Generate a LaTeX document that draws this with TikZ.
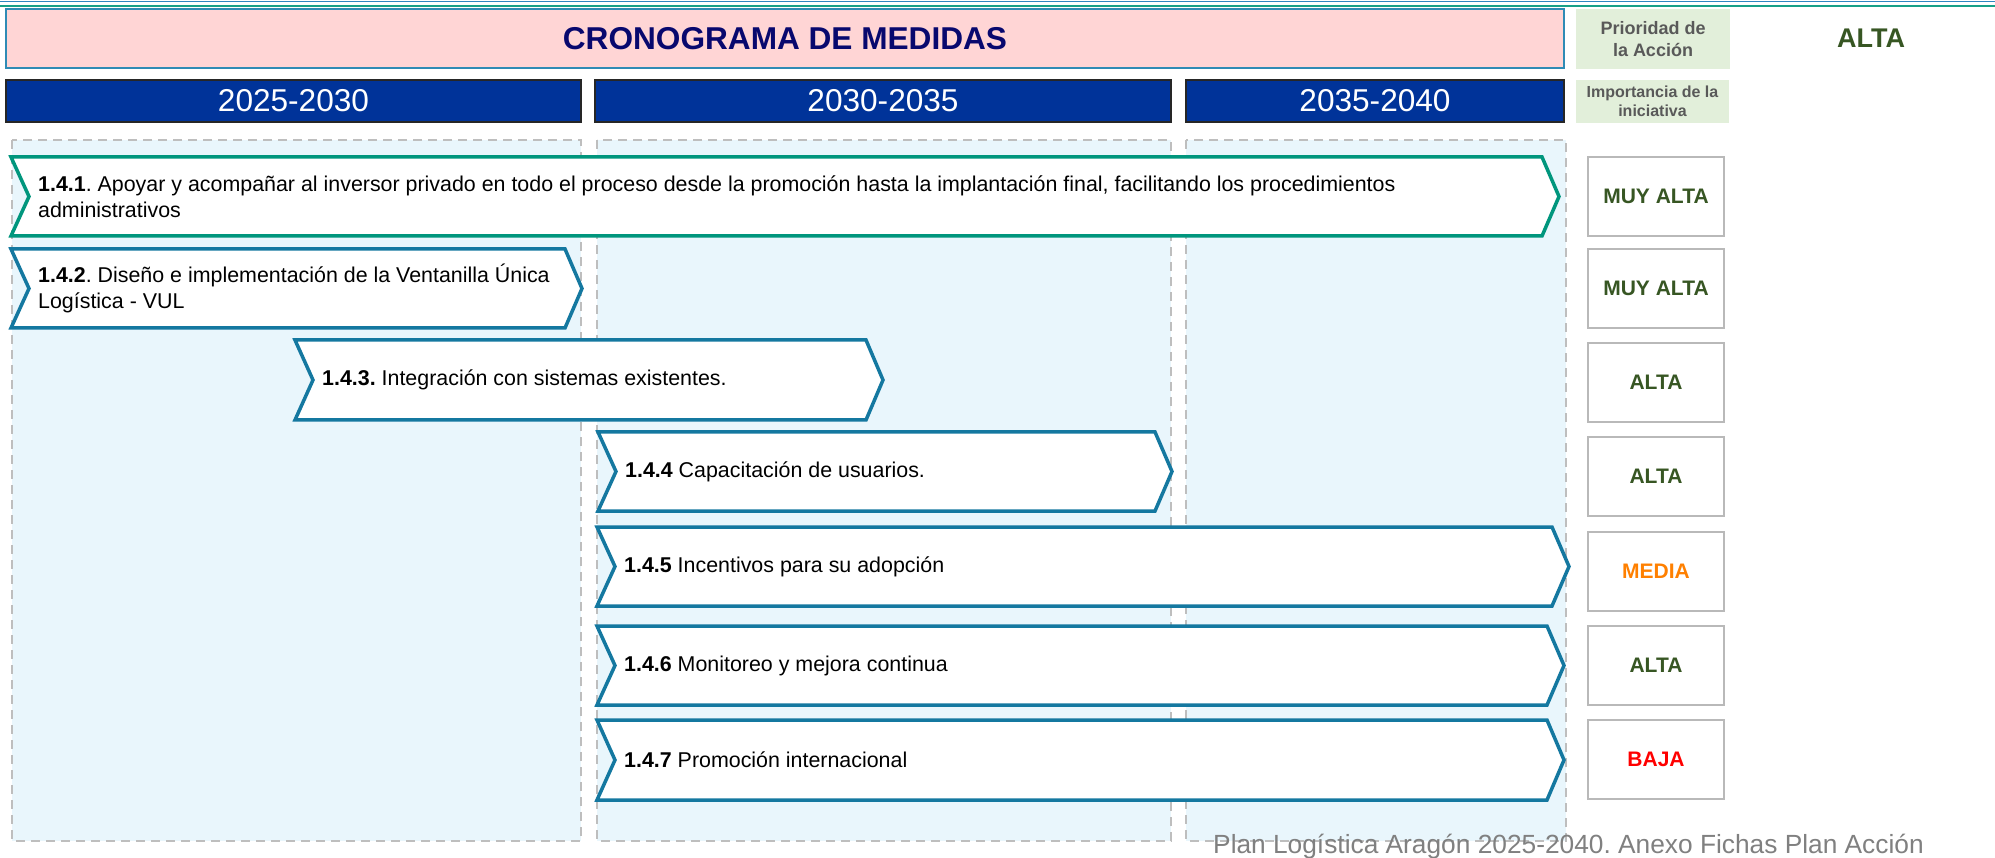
\documentclass[tikz,border=0pt]{standalone}
\usepackage{fontspec}
\setmainfont{Liberation Sans}
\frenchspacing
\definecolor{topblue}{RGB}{46,134,193}
\definecolor{topteal}{RGB}{23,160,135}
\definecolor{titlefill}{RGB}{255,213,213}
\definecolor{titledraw}{RGB}{47,139,181}
\definecolor{titletext}{RGB}{8,8,110}
\definecolor{yearblue}{RGB}{0,51,153}
\definecolor{hdrgreen}{RGB}{226,239,218}
\definecolor{hdrgray}{RGB}{89,89,89}
\definecolor{dkgreen}{RGB}{55,86,35}
\definecolor{prioorange}{RGB}{255,128,0}
\definecolor{priored}{RGB}{255,0,0}
\definecolor{colfill}{RGB}{233,246,252}
\definecolor{dashgray}{RGB}{190,190,190}
\definecolor{boxgray}{RGB}{185,185,185}
\definecolor{chevteal}{RGB}{0,150,125}
\definecolor{chevblue}{RGB}{20,120,160}
\definecolor{footgray}{RGB}{128,128,128}
\newcommand{\chevbar}[7]{%
  \draw[#6] (#2,#4) -- (#3-17,#4) -- (#3,{(#4+#5)/2}) -- (#3-17,#5) -- (#2,#5) -- (#2+18,{(#4+#5)/2}) -- cycle;
  \node[chevtext] (#1) at (#2+27,{(#4+#5)/2}) {#7};
}
\begin{document}
\begin{tikzpicture}[x=1pt,y=-1pt,
  colbox/.style={fill=colfill, draw=dashgray, line width=2.5pt, dash pattern=on 9pt off 6pt},
  yearbar/.style={fill=yearblue, draw=black!85, line width=2pt, text=white, font=\fontsize{31.6}{36}\selectfont, inner sep=0pt},
  greenhdr/.style={fill=hdrgreen, draw=none, text=hdrgray, align=center, inner sep=0pt},
  prio/.style={fill=white, draw=boxgray, line width=1.5pt, minimum width=136pt, minimum height=79pt, font=\bfseries\fontsize{21}{25}\selectfont, inner sep=0pt},
  chevT/.style={draw=chevteal, line width=3.5pt, fill=white, line join=miter},
  chevB/.style={draw=chevblue, line width=3.5pt, fill=white, line join=miter},
  chevtext/.style={anchor=west, align=left, font=\fontsize{21.4}{25.8}\selectfont, inner sep=0pt}
]
\useasboundingbox (0,0) rectangle (1995,858);
\fill[white] (0,0) rectangle (1995,858);
% top lines
\draw[topblue, line width=1.5pt] (0,1.5) -- (1995,1.5);
\draw[topteal, line width=2.5pt] (0,6) -- (1995,6);
% title
\node[fill=titlefill, draw=titledraw, line width=2.5pt, minimum width=1558pt, minimum height=59pt, inner sep=0pt,
  text=titletext, font=\bfseries\fontsize{31.6}{36}\selectfont] (title) at (785,38.5) {CRONOGRAMA DE MEDIDAS};
\node[greenhdr, minimum width=154pt, minimum height=60pt, font=\bfseries\fontsize{18}{22}\selectfont] (hprio) at (1653,39) {Prioridad de\\la Acción};
\node[text=dkgreen, font=\bfseries\fontsize{27}{32}\selectfont, inner sep=0pt] (alta) at (1871,38) {ALTA};
% year bars
\node[yearbar, minimum width=575pt, minimum height=42pt] (y1) at (293.5,101) {2025-2030};
\node[yearbar, minimum width=576pt, minimum height=42pt] (y2) at (883,101) {2030-2035};
\node[yearbar, minimum width=378pt, minimum height=42pt] (y3) at (1375,101) {2035-2040};
\node[greenhdr, minimum width=153pt, minimum height=43pt, font=\bfseries\fontsize{16}{19}\selectfont] (himp) at (1652.5,101.5) {Importancia de la\\iniciativa};
% columns
\draw[colbox] (12,140) rectangle (581,841);
\draw[colbox] (597,140) rectangle (1171,841);
\draw[colbox] (1186,140) rectangle (1566,841);
% chevrons
\chevbar{c1}{11}{1559}{157}{236}{chevT}{\textbf{1.4.1}. Apoyar y acompañar al inversor privado en todo el proceso desde la promoción hasta la implantación final, facilitando los procedimientos\\administrativos}
\chevbar{c2}{11}{582}{249}{328}{chevB}{\textbf{1.4.2}. Diseño e implementación de la Ventanilla Única\\Logística - VUL}
\chevbar{c3}{295}{883}{340}{420}{chevB}{\textbf{1.4.3.} Integración con sistemas existentes.}
\chevbar{c4}{598}{1172}{432}{511}{chevB}{\textbf{1.4.4} Capacitación de usuarios.}
\chevbar{c5}{597}{1569}{527}{606}{chevB}{\textbf{1.4.5} Incentivos para su adopción}
\chevbar{c6}{597}{1564}{626}{705}{chevB}{\textbf{1.4.6} Monitoreo y mejora continua}
\chevbar{c7}{597}{1564}{720}{800}{chevB}{\textbf{1.4.7} Promoción internacional}
% priority boxes
\node[prio, text=dkgreen] (p1) at (1656,196.5) {MUY ALTA};
\node[prio, text=dkgreen] (p2) at (1656,288.5) {MUY ALTA};
\node[prio, text=dkgreen] (p3) at (1656,382.5) {ALTA};
\node[prio, text=dkgreen] (p4) at (1656,476.5) {ALTA};
\node[prio, text=prioorange] (p5) at (1656,571.5) {MEDIA};
\node[prio, text=dkgreen] (p6) at (1656,665.5) {ALTA};
\node[prio, text=priored] (p7) at (1656,759.5) {BAJA};
% footer
\node[anchor=base west, inner sep=0pt, text=footgray, font=\fontsize{26.3}{30}\selectfont] (foot) at (1213,853) {Plan Logística Aragón 2025-2040. Anexo Fichas Plan Acción};
\end{tikzpicture}
\end{document}
